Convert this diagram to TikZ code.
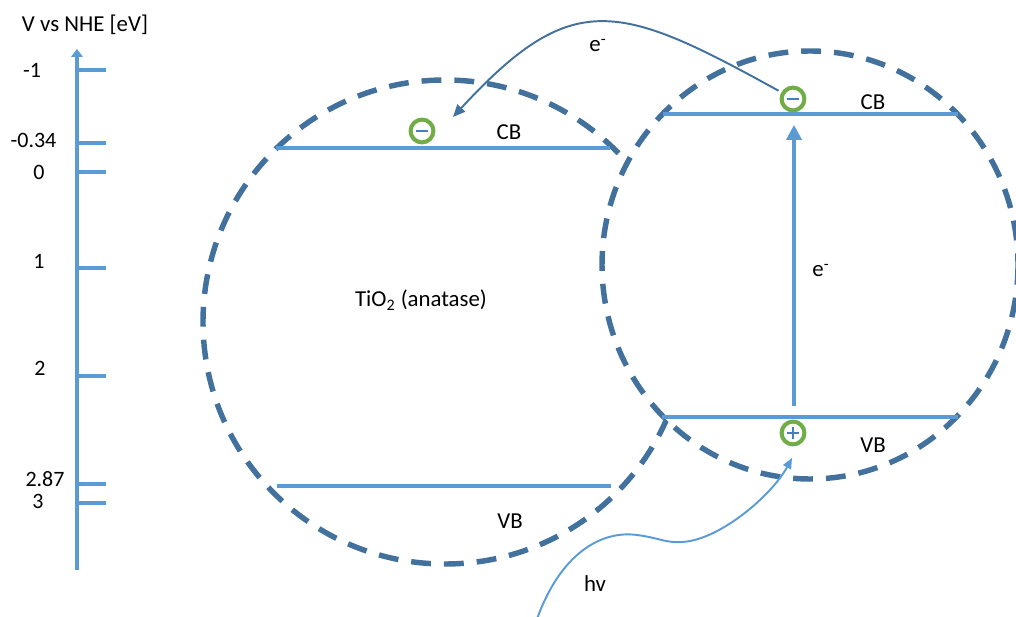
\documentclass[tikz,border=0pt]{standalone}
\usepackage{fontspec}
\setmainfont{Carlito}
\usetikzlibrary{arrows.meta}
\definecolor{dashblue}{HTML}{41719C}
\definecolor{bandblue}{HTML}{5B9BD5}
\definecolor{holegreen}{HTML}{70AD47}
\definecolor{signblue}{HTML}{4A7EBB}

\begin{document}
\begin{tikzpicture}[x=0.02cm,y=-0.02cm,
  every node/.style={font=\fontsize{13}{15}\selectfont, inner sep=0pt},
  txt/.style={anchor=base},
  tickval/.style={anchor=base, font=\fontsize{12.5}{13}\selectfont},
  band/.style={bandblue, line width=2.4pt},
  axisline/.style={bandblue, line width=1.9pt},
  particle/.style={dashblue, line width=3.1pt, dash pattern=on 11.3pt off 7.4pt},
  carrier/.style={circle, draw=holegreen, line width=2.3pt, minimum size=13pt, inner sep=0pt, outer sep=0pt},
  electron/.style={carrier, path picture={
    \draw[signblue, line width=1.4pt]
      ([xshift=-3.2pt]path picture bounding box.center) -- ([xshift=3.2pt]path picture bounding box.center);}},
  hole/.style={carrier, path picture={
    \draw[signblue, line width=1.4pt]
      ([xshift=-3.2pt]path picture bounding box.center) -- ([xshift=3.2pt]path picture bounding box.center)
      ([yshift=-3.2pt]path picture bounding box.center) -- ([yshift=3.2pt]path picture bounding box.center);}},
  transfer/.style={dashblue, line width=1.1pt, -{Triangle[length=7pt,width=6pt]}},
  excite/.style={bandblue, line width=2.4pt, -{Triangle[length=8.5pt,width=8.5pt]}},
  photon/.style={bandblue, line width=1.1pt, -{Triangle[length=6pt,width=5pt]}}
]
\useasboundingbox (0,0) rectangle (1016,617);

% potential axis
\draw[axisline, -{Triangle[length=4.5pt,width=6.5pt]}] (77,570) -- (77,49);
\foreach \y in {70,143,172,268,376,484,503}
  \draw[axisline] (77,\y) -- (106,\y);
\node[txt] (title) at (85,31.5) {V vs NHE [eV]};
\node[tickval] (vm1)  at (32,78)  {-1};
\node[tickval] (vm34) at (33.5,148) {-0.34};
\node[tickval] (v0)   at (39,180) {0};
\node[tickval] (v1)   at (39,269) {1};
\node[tickval] (v2)   at (40,376) {2};
\node[tickval] (v287) at (45,486) {2.87};
\node[tickval] (v3)   at (38,508) {3};

% particle outlines: left one hidden where it overlaps the right one
\begin{scope}[even odd rule]
  \clip (0,0) rectangle (1016,617)
    (810,265) ellipse [x radius=208, y radius=214];
  \draw[particle] (445,322) circle [radius=242];
\end{scope}
\draw[particle] (810,265) ellipse [x radius=208, y radius=214];

% band edges
\draw[band] (276,148) -- (610,148);
\draw[band] (277,486) -- (611,486);
\draw[band] (663,114) -- (958,114);
\draw[band] (662,417) -- (958,417);

\node[txt] (cbL) at (509,140) {CB};
\node[txt] (vbL) at (510,528) {VB};
\node[txt] (cbR) at (873,110) {CB};
\node[txt] (vbR) at (873,452) {VB};
\node[txt] (tio2) at (421,307) {TiO\textsubscript{2} (anatase)};

% charge carriers
\node[electron] (mL) at (422,131) {};
\node[electron] (mR) at (793,99) {};
\node[hole] (pR) at (793,433) {};

% excitation across the gap
\coordinate (vbRmid) at (794,417);
\coordinate (cbRmid) at (794,114);
\draw[excite, shorten <=6.2pt, shorten >=6.2pt] (vbRmid) -- (cbRmid);
\node[txt] (eup) at (821,277) {e\textsuperscript{-}};

% electron transfer between the conduction bands
\coordinate (eEnd) at (453,117);
\draw[transfer, shorten <=3pt] (mR.150) .. controls (618,2) and (572,-12) .. (eEnd);
\node[txt] (etr) at (598,52) {e\textsuperscript{-}};

% incoming light
\coordinate (hvStart) at (537,619);
\coordinate (hvEnd) at (792,458);
\draw[photon] (hvStart) .. controls (560,555) and (600,530) .. (637,535)
  .. controls (660,538) and (665,543) .. (682,542)
  .. controls (720,540) and (772,495) .. (hvEnd);
\node[txt] (hv) at (595,591) {hv};
\end{tikzpicture}
\end{document}
